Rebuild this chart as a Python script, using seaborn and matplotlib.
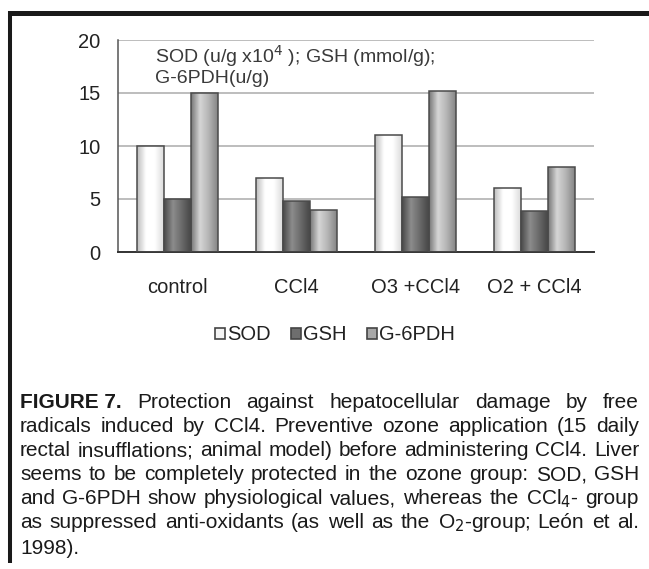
import numpy as np
import pandas as pd
import seaborn as sns
import matplotlib
matplotlib.use("Agg")
import matplotlib.pyplot as plt
from matplotlib.lines import Line2D
from matplotlib.patches import Patch
from matplotlib.colors import LinearSegmentedColormap
from matplotlib import font_manager

groups = ["control", "CCl4", "O3 +CCl4", "O2 + CCl4"]
series = ["SOD", "GSH", "G-6PDH"]
sod = [10, 7, 11, 6]
gsh = [5, 4.8, 5.2, 3.9]
g6pdh = [15, 4, 15.2, 8]
yticks = [0, 5, 10, 15, 20]

df = pd.DataFrame({
    "group": groups * 3,
    "series": [s for s in series for _ in groups],
    "value": sod + gsh + g6pdh,
})

sns.set_theme(style="white")
names = {f.name for f in font_manager.fontManager.ttflist}
narrow = "Liberation Sans Narrow" if "Liberation Sans Narrow" in names else "Liberation Sans"
plt.rcParams["font.family"] = ["Liberation Sans", "DejaVu Sans"]

W, H = 649, 569
fig = plt.figure(figsize=(W / 100, H / 100), dpi=100)
ax_l, ax_r, ax_t, ax_b = 118, 594, 40, 252
ax = fig.add_axes([ax_l / W, 1 - ax_b / H, (ax_r - ax_l) / W, (ax_b - ax_t) / H])

flat = {"SOD": "#f4f4f4", "GSH": "#6e6e6e", "G-6PDH": "#a8a8a8"}
sns.barplot(data=df, x="group", y="value", hue="series", order=groups,
            hue_order=series, palette=flat, width=0.68, ax=ax,
            edgecolor="#4a4a4a", linewidth=1.1, legend=False, saturation=1)

grads = {
    "SOD": ["#bdbdbd", "#ffffff", "#ffffff", "#dcdcdc"],
    "GSH": ["#4a4a4a", "#8c8c8c", "#6a6a6a", "#474747"],
    "G-6PDH": ["#777777", "#d6d6d6", "#b4b4b4", "#858585"],
}
grad_x = np.linspace(0, 1, 64).reshape(1, -1)
for cont, s in zip(ax.containers, series):
    cmap = LinearSegmentedColormap.from_list(s, grads[s])
    for bar in cont:
        x0, w, h = bar.get_x(), bar.get_width(), bar.get_height()
        im = ax.imshow(grad_x, cmap=cmap, aspect="auto",
                       extent=[x0, x0 + w, 0, h], zorder=2.5,
                       interpolation="bilinear")
        im.set_clip_path(bar)
        bar.set_facecolor("none")
        bar.set_zorder(3)

ax.set_xlim(-0.5, 3.5)
ax.set_ylim(0, 20)
ax.set_yticks(yticks)
ax.set_yticklabels([str(v) for v in yticks], fontsize=14.5)
ax.set_xticks(range(len(groups)))
ax.set_xticklabels(groups, fontsize=14.5)
ax.set_xticks([-0.5, 0.5, 1.5, 2.5, 3.5], minor=True)
ax.tick_params(axis="x", which="major", length=0, pad=19)
ax.tick_params(axis="x", which="minor", length=4.5, width=1.4, color="#333333", direction="out")
ax.tick_params(axis="y", length=4.5, width=1.4, color="#333333", direction="out", pad=8)
ax.set_xlabel("")
ax.set_ylabel("")
ax.grid(axis="y", color="#b8b8b8", linewidth=1.3)
ax.set_axisbelow(True)
for sp in ["top", "right"]:
    ax.spines[sp].set_visible(False)
ax.spines["left"].set_color("#555555")
ax.spines["bottom"].set_color("#333333")
ax.spines["left"].set_linewidth(1.1)
ax.spines["bottom"].set_linewidth(1.4)
for lab in ax.get_xticklabels() + ax.get_yticklabels():
    lab.set_color("#222222")

ax.text((155 - ax_l) / (ax_r - ax_l), (ax_b - 43) / (ax_b - ax_t),
        "SOD (u/g x10$^{4}$ ); GSH (mmol/g);\nG-6PDH(u/g)",
        transform=ax.transAxes, fontsize=14, color="#3a3a3a",
        va="top", ha="left", linespacing=1.1)

handles = [Patch(facecolor=c, edgecolor="#444444", linewidth=1.2)
           for c in ["#f4f4f4", "#6e6e6e", "#a8a8a8"]]
fig.legend(handles, series, loc="center", bbox_to_anchor=(335 / W, 1 - 335 / H),
           ncol=3, frameon=False, fontsize=14.5, handlelength=0.5, handleheight=0.5,
           handletextpad=0.1, columnspacing=1.0, labelcolor="#222222",
           borderpad=0, borderaxespad=0)

fig.add_artist(Line2D([8 / W, 1.0], [1 - 12.5 / H, 1 - 12.5 / H], color="#1a1a1a",
                      linewidth=3.6, transform=fig.transFigure, solid_capstyle="butt"))
fig.add_artist(Line2D([10 / W, 10 / W], [1 - 10.5 / H, 1 - 563 / H], color="#1a1a1a",
                      linewidth=2.9, transform=fig.transFigure, solid_capstyle="butt"))

caption_lines = [
    ["Protection", "against", "hepatocellular", "damage", "by", "free"],
    ["radicals", "induced", "by", "CCl4.", "Preventive", "ozone", "application", "(15", "daily"],
    ["rectal", "insufflations;", "animal", "model)", "before", "administering", "CCl4.", "Liver"],
    ["seems", "to", "be", "completely", "protected", "in", "the", "ozone", "group:", "SOD,", "GSH"],
    ["and", "G-6PDH", "show", "physiological", "values,", "whereas", "the", "CCl$_4$-", "group"],
    ["as", "suppressed", "anti-oxidants", "(as", "well", "as", "the", "O$_2$-group;", "León", "et", "al."],
    ["1998)."],
]
line_y = [402, 426, 451, 475, 499, 523, 548]
x_left, x_right = 20, 639
cap_color = "#1a1a1a"
cap_family = [narrow, "Liberation Sans", "DejaVu Sans"]
renderer = fig.canvas.get_renderer()


def measure(word, size, weight="normal"):
    t = fig.text(0, 0, word, fontsize=size, fontweight=weight, family=cap_family)
    wdt = t.get_window_extent(renderer).width
    t.remove()
    return wdt


# choose the largest caption size for which every line fits with modest gaps
fs = 15.0
while fs > 9:
    ok = True
    for i, words in enumerate(caption_lines):
        items = ([("FIGURE 7.", "bold")] if i == 0 else []) + [(w, "normal") for w in words]
        total = sum(measure(w, fs, wt) for w, wt in items)
        if total + (len(items) - 1) * fs * 1.389 * 0.2 > (x_right - x_left):
            ok = False
            break
    if ok:
        break
    fs -= 0.2

for i, (words, yy) in enumerate(zip(caption_lines, line_y)):
    items = ([("FIGURE 7.", "bold")] if i == 0 else []) + [(w, "normal") for w in words]
    texts = []
    for w, weight in items:
        t = fig.text(0, 1 - yy / H, w, fontsize=fs, fontweight=weight,
                     family=cap_family, color=cap_color, va="center", ha="left")
        texts.append(t)
    widths = [t.get_window_extent(renderer).width for t in texts]
    total = sum(widths)
    last = i == len(caption_lines) - 1
    n_gaps = len(texts) - 1
    gap = 5 if (last or n_gaps == 0) else (x_right - x_left - total) / n_gaps
    x = x_left
    for t, wdt in zip(texts, widths):
        t.set_x(x / W)
        x += wdt + gap

fig.savefig("out.png", dpi=100, facecolor="white")
